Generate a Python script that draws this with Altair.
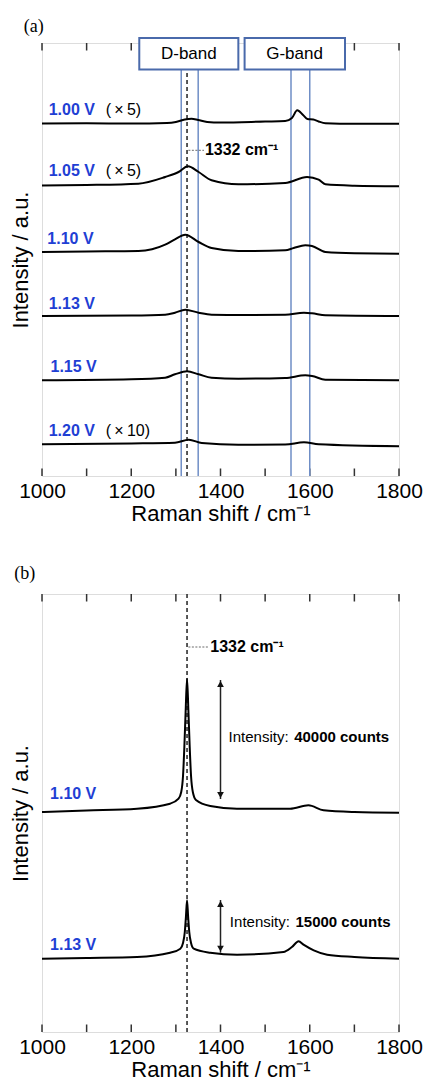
import altair as alt
import pandas as pd

# ---------------- Panel (a): Raman spectra (offset, arbitrary units) ----------------
a100_x = [1000, 1100, 1200, 1280, 1300, 1320, 1335, 1350, 1370, 1400, 1500, 1545, 1560, 1572, 1585, 1595, 1608, 1620, 1635, 1700, 1800]
a100_y = [352.5, 352.7, 352.5, 353, 354, 356.5, 357.3, 356, 354, 353.5, 354.5, 355, 358, 365.7, 361, 357, 356.5, 354.5, 352.8, 352.3, 352.3]

a105_x = [1000, 1100, 1216, 1276, 1306, 1327, 1351, 1380, 1440, 1545, 1594, 1620, 1635, 1700, 1800]
a105_y = [290.5, 291, 292.3, 299, 304, 309.7, 304, 295.7, 291.7, 293, 299, 296.3, 291.7, 290.3, 289.7]

a110_x = [1000, 1100, 1216, 1276, 1298, 1321, 1351, 1380, 1440, 1545, 1564, 1590, 1605, 1635, 1700, 1800]
a110_y = [224, 224.5, 225, 231.3, 236.7, 241.3, 234, 228, 225, 225.7, 228, 230.7, 230, 224, 222.7, 222.3]

a113_x = [1000, 1200, 1276, 1298, 1321, 1351, 1380, 1450, 1545, 1587, 1605, 1635, 1800]
a113_y = [160, 160.5, 161.3, 163.3, 166.3, 163.3, 161.3, 161, 161.3, 163.3, 162.7, 160.7, 160]

a115_x = [1000, 1200, 1276, 1298, 1325, 1351, 1380, 1440, 1545, 1590, 1605, 1635, 1800]
a115_y = [95.7, 96.7, 98.3, 101.7, 104.7, 101.7, 98.3, 97.3, 98, 100.7, 100, 96.3, 95.7]

a120_x = [1000, 1200, 1298, 1329, 1358, 1440, 1545, 1587, 1620, 1800]
a120_y = [31.7, 32.5, 33.3, 36.3, 33, 31.3, 31.5, 33.7, 31.7, 29.7]

a_names = ["1.00 V", "1.05 V", "1.10 V", "1.13 V", "1.15 V", "1.20 V"]
a_factor = ["(\u2009×\u20095)", "(\u2009×\u20095)", "", "", "", "(\u2009×\u200910)"]
a_label_x = [1015, 1015, 1012, 1015, 1019, 1015]
a_label_y = [366, 305, 236.7, 172, 109, 45]
a_factor_x = [1143, 1143, 0, 0, 0, 1143]

band_names = ["D-band", "G-band"]
band_box_x = [1218, 1454]
band_box_x2 = [1440, 1679]
band_center = [1329, 1566]
band_edges = [1312, 1350, 1558, 1600]

# ---------------- Panel (b): Raman spectra ----------------
b110_x = [1000, 1100, 1213, 1287, 1306, 1312, 1316, 1319, 1322, 1325, 1328, 1331, 1334, 1338, 1345, 1377, 1437, 1556, 1597, 1631, 1700, 1800]
b110_y = [220, 221.5, 223.3, 228.3, 233.3, 240, 256, 285, 322, 353.3, 322, 285, 256, 240, 232, 226, 223.3, 223.3, 226.7, 221.7, 220, 219.3]

b113_x = [1000, 1100, 1213, 1287, 1310, 1316, 1320, 1322.5, 1325, 1327.5, 1330, 1334, 1340, 1377, 1437, 1541, 1560, 1575, 1586, 1609, 1639, 1700, 1800]
b113_y = [73.3, 74, 75, 79.3, 83.3, 89, 100, 115, 131.7, 115, 100, 89, 83.3, 79.3, 77.3, 80, 85, 90.7, 87.3, 81.7, 77.3, 75, 73.3]

b_names = ["1.10 V", "1.13 V"]
b_label_x = [1018, 1018]
b_label_y = [238.3, 86.7]
b_arrow_top = [352, 132]
b_arrow_bottom = [233, 79.3]
b_counts = ["40000 counts", "15000 counts"]
b_text_y = [295, 110]

peak_pos = 1325
peak_text = "1332 cm⁻¹"
x_ticks = [1000, 1100, 1200, 1300, 1400, 1500, 1600, 1700, 1800]
x_labels = [1000, 1200, 1400, 1600, 1800]

BLUE_LABEL = "#1f3fd4"
BOX_BLUE = "#4a6aab"
LINE_BLUE = "#6f8ec6"
FONT = "Liberation Sans"

W = 357
HA = 433
HB = 438


def spectra_frame(series):
    rows = []
    for name, xs, ys in series:
        for xv, yv in zip(xs, ys):
            rows.append({"s": name, "x": xv, "y": yv})
    return pd.DataFrame(rows)


def make_panel(h, series, extra_layers):
    xs = alt.Scale(domain=[1000, 1800], nice=False, zero=False)
    ys = alt.Scale(domain=[0, h], nice=False, zero=False)
    xaxis = alt.Axis(values=x_labels, format="d", ticks=False, domain=False, grid=False,
                     labelFlush=False, labelOverlap=False,
                     labelFontSize=21, labelFont=FONT, labelColor="black", labelPadding=4,
                     title="Raman shift / cm⁻¹", titleFontSize=22, titleFont=FONT,
                     titleFontWeight="normal", titleColor="black", titlePadding=2)
    yaxis = alt.Axis(labels=False, ticks=False, domain=False, grid=False,
                     title="Intensity / a.u.", titleFontSize=22, titleFont=FONT,
                     titleFontWeight="normal", titleColor="black", titlePadding=10)

    def X(field="x"):
        return alt.X(f"{field}:Q", scale=xs, axis=xaxis)

    def Y(field="y"):
        return alt.Y(f"{field}:Q", scale=ys, axis=yaxis)

    tick_df = pd.DataFrame({"x": x_ticks})
    ticks_bottom = alt.Chart(tick_df).mark_rule(color="#333", strokeWidth=1.5).encode(
        x=X(), y=alt.value(h), y2=alt.value(h - 7.5))
    ticks_top = alt.Chart(tick_df).mark_rule(color="#333", strokeWidth=1.5).encode(
        x=X(), y=alt.value(0), y2=alt.value(7.5))

    curves = alt.Chart(spectra_frame(series)).mark_line(
        color="black", strokeWidth=2, interpolate="monotone").encode(
        x=X(), y=Y(), detail="s:N")

    layers = [ticks_bottom, ticks_top] + extra_layers(X, Y) + [curves]
    return alt.layer(*layers).properties(width=W, height=h)


# ----- panel (a) annotations -----
def layers_a(X, Y):
    out = []
    edges = pd.DataFrame({"x": band_edges, "y": [0] * 4, "y2": [406.5] * 4})
    out.append(alt.Chart(edges).mark_rule(color=LINE_BLUE, strokeWidth=1.5).encode(
        x=X(), y=Y(), y2="y2:Q"))
    dash = pd.DataFrame({"x": [peak_pos], "y": [0], "y2": [406.5]})
    out.append(alt.Chart(dash).mark_rule(color="#222", strokeWidth=1.5, strokeDash=[4, 3]).encode(
        x=X(), y=Y(), y2="y2:Q"))
    boxes = pd.DataFrame({"x": band_box_x, "x2": band_box_x2, "y": [406.5, 406.5], "y2": [438, 438]})
    out.append(alt.Chart(boxes).mark_rect(fill="white", stroke=BOX_BLUE, strokeWidth=2).encode(
        x=X(), x2="x2:Q", y=Y(), y2="y2:Q"))
    btxt = pd.DataFrame({"x": band_center, "y": [422, 422], "t": band_names})
    out.append(alt.Chart(btxt).mark_text(font=FONT, fontSize=17, color="black",
                                         align="center", baseline="middle").encode(
        x=X(), y=Y(), text="t:N"))
    lead = pd.DataFrame({"x": [peak_pos + 3], "x2": [1363], "y": [325.7]})
    out.append(alt.Chart(lead).mark_rule(color="#444", strokeWidth=0.8, strokeDash=[2, 1.5]).encode(
        x=X(), x2="x2:Q", y=Y()))
    ptxt = pd.DataFrame({"x": [1365], "y": [325.7], "t": [peak_text]})
    out.append(alt.Chart(ptxt).mark_text(font=FONT, fontSize=16, fontWeight="bold", color="black",
                                         align="left", baseline="middle").encode(
        x=X(), y=Y(), text="t:N"))
    lab = pd.DataFrame({"x": a_label_x, "y": a_label_y, "t": a_names})
    out.append(alt.Chart(lab).mark_text(font=FONT, fontSize=16, fontWeight="bold", color=BLUE_LABEL,
                                        align="left", baseline="middle").encode(
        x=X(), y=Y(), text="t:N"))
    fac = pd.DataFrame({"x": a_factor_x, "y": a_label_y, "t": a_factor})
    fac = fac[fac["t"] != ""]
    out.append(alt.Chart(fac).mark_text(font=FONT, fontSize=16, color="black",
                                        align="left", baseline="middle").encode(
        x=X(), y=Y(), text="t:N"))
    tag = pd.DataFrame({"x": [959], "y": [449.5], "t": ["(a)"]})
    out.append(alt.Chart(tag).mark_text(font="Liberation Serif", fontSize=18, color="black",
                                        align="left", baseline="middle").encode(
        x=X(), y=Y(), text="t:N"))
    return out


# ----- panel (b) annotations -----
def layers_b(X, Y):
    out = []
    dash = pd.DataFrame({"x": [peak_pos], "y": [0], "y2": [HB]})
    out.append(alt.Chart(dash).mark_rule(color="#222", strokeWidth=1.5, strokeDash=[4, 3]).encode(
        x=X(), y=Y(), y2="y2:Q"))
    lead = pd.DataFrame({"x": [peak_pos + 3], "x2": [1375], "y": [385]})
    out.append(alt.Chart(lead).mark_rule(color="#444", strokeWidth=0.8, strokeDash=[2, 1.5]).encode(
        x=X(), x2="x2:Q", y=Y()))
    ptxt = pd.DataFrame({"x": [1377], "y": [385], "t": [peak_text]})
    out.append(alt.Chart(ptxt).mark_text(font=FONT, fontSize=16, fontWeight="bold", color="black",
                                         align="left", baseline="middle").encode(
        x=X(), y=Y(), text="t:N"))
    arr = pd.DataFrame({"x": [1400, 1400], "y": b_arrow_bottom, "y2": b_arrow_top})
    out.append(alt.Chart(arr).mark_rule(color="#222", strokeWidth=1.5).encode(
        x=X(), y=Y(), y2="y2:Q"))
    heads_up = pd.DataFrame({"x": [1400, 1400], "y": [v - 4 for v in b_arrow_top]})
    out.append(alt.Chart(heads_up).mark_point(shape="triangle-up", filled=True, color="#111",
                                              size=45, opacity=1).encode(x=X(), y=Y()))
    heads_dn = pd.DataFrame({"x": [1400, 1400], "y": [v + 4 for v in b_arrow_bottom]})
    out.append(alt.Chart(heads_dn).mark_point(shape="triangle-down", filled=True, color="#111",
                                              size=45, opacity=1).encode(x=X(), y=Y()))
    t1 = pd.DataFrame({"x": [1418, 1421], "y": b_text_y, "t": ["Intensity:", "Intensity:"]})
    out.append(alt.Chart(t1).mark_text(font=FONT, fontSize=15, color="black",
                                       align="left", baseline="middle").encode(
        x=X(), y=Y(), text="t:N"))
    t2 = pd.DataFrame({"x": [1565, 1568], "y": b_text_y, "t": b_counts})
    out.append(alt.Chart(t2).mark_text(font=FONT, fontSize=15, fontWeight="bold", color="black",
                                       align="left", baseline="middle").encode(
        x=X(), y=Y(), text="t:N"))
    lab = pd.DataFrame({"x": b_label_x, "y": b_label_y, "t": b_names})
    out.append(alt.Chart(lab).mark_text(font=FONT, fontSize=16, fontWeight="bold", color=BLUE_LABEL,
                                        align="left", baseline="middle").encode(
        x=X(), y=Y(), text="t:N"))
    tag = pd.DataFrame({"x": [938], "y": [458.3], "t": ["(b)"]})
    out.append(alt.Chart(tag).mark_text(font="Liberation Serif", fontSize=18, color="black",
                                        align="left", baseline="middle").encode(
        x=X(), y=Y(), text="t:N"))
    return out


panel_a = make_panel(HA, [("1.00", a100_x, a100_y), ("1.05", a105_x, a105_y), ("1.10", a110_x, a110_y),
                          ("1.13", a113_x, a113_y), ("1.15", a115_x, a115_y), ("1.20", a120_x, a120_y)],
                     layers_a)
panel_b = make_panel(HB, [("1.10", b110_x, b110_y), ("1.13", b113_x, b113_y)], layers_b)

chart = alt.vconcat(panel_a, panel_b, spacing=118, bounds="flush").properties(
    padding={"left": 8, "top": 16, "right": 0, "bottom": 0}
).configure_view(stroke="#333", strokeWidth=1.5).configure(font=FONT, background="white")

chart.save("out.html", embed_options={"renderer": "svg", "actions": False})
